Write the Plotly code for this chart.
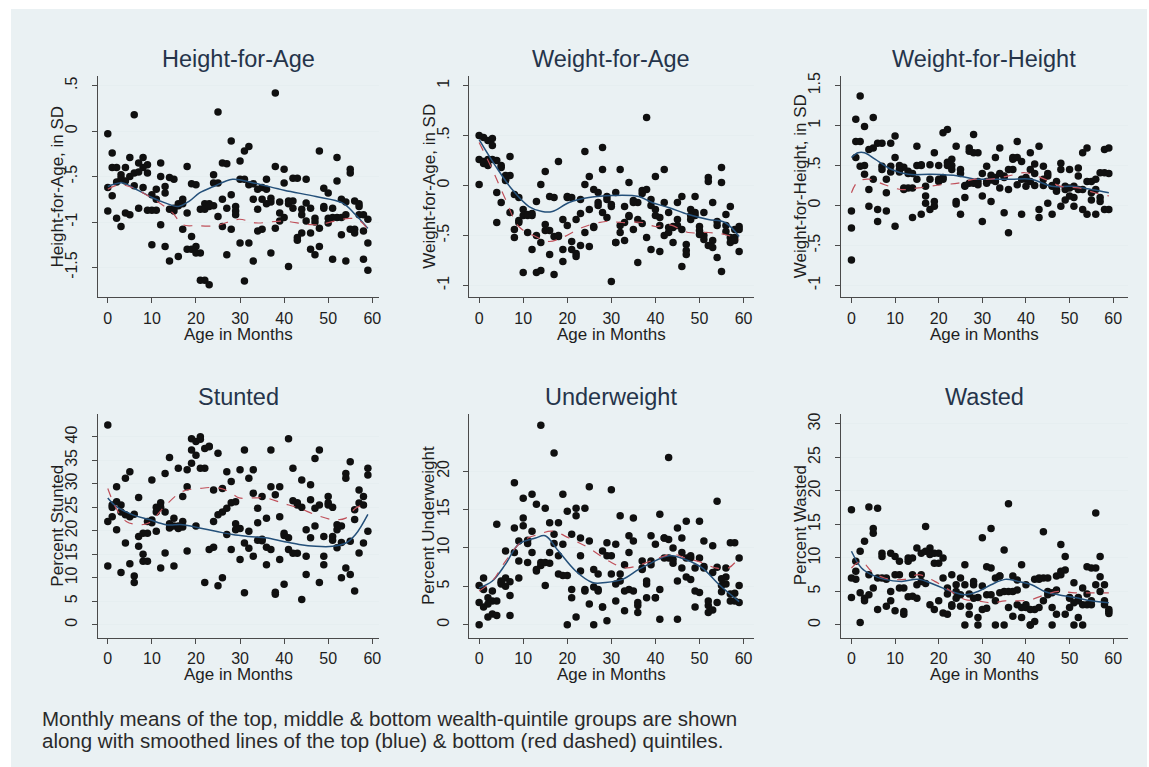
import plotly.graph_objects as go

# ---------------------------------------------------------------- data
AGE = list(range(60))

# Height-for-age z-score, monthly means by wealth quintile group
hfa_top = [-0.03, -0.24, -0.40, -0.48, -0.40, -0.29, 0.18, -0.35, -0.29, -0.37,
           -0.70, -0.64, -0.35, -0.61, -0.51, -0.53, -0.80, -0.75, -0.39, -0.58,
           -0.59, -0.86, -0.80, -0.80, -0.48, 0.21, -0.35, -0.36, -0.11, -0.83,
           -0.33, -0.22, -0.17, -0.58, -0.64, -0.62, -0.53, -0.74, 0.42, -0.78,
           -0.42, -0.77, -0.52, -0.52, -0.86, -0.53, -0.85, -0.96, -0.22, -0.63,
           -0.68, -0.85, -0.29, -0.75, -0.78, -0.42, -0.77, -0.80, -0.92, -0.97]
hfa_mid = [-0.62, -0.40, -0.56, -0.52, -0.55, -0.50, -0.46, -0.45, -0.40, -0.46,
           -0.87, -0.75, -0.50, -0.68, -0.86, -0.85, -0.82, -0.80, -0.90, -1.16,
           -1.27, -1.34, -0.86, -0.83, -0.57, -0.57, -0.75, -0.85, -0.70, -0.88,
           -0.53, -0.53, -0.59, -0.75, -0.86, -0.75, -0.64, -0.78, -0.39, -0.90,
           -0.57, -0.80, -0.77, -1.17, -0.92, -0.79, -1.12, -1.00, -1.07, -0.83,
           -0.96, -0.95, -0.55, -0.95, -0.92, -0.46, -1.08, -0.83, -1.10, -1.23]
hfa_bot = [-0.88, -0.71, -0.96, -1.05, -0.90, -0.92, -0.60, -0.85, -0.62, -0.87,
           -1.25, -0.87, -1.03, -1.27, -1.43, -0.88, -1.38, -1.08, -1.30, -1.30,
           -1.34, -1.64, -1.64, -1.69, -0.82, -0.94, -1.05, -1.36, -1.08, -0.92,
           -1.23, -1.65, -1.23, -1.43, -1.10, -1.08, -0.80, -1.34, -1.07, -0.99,
           -0.95, -1.49, -0.85, -1.20, -1.12, -0.99, -1.30, -1.36, -1.27, -0.85,
           -1.01, -1.41, -0.95, -1.14, -1.43, -1.08, -1.12, -0.92, -1.41, -1.53]
hfa_blue_age = [0, 3.4, 6.4, 10, 13, 16, 18.5, 20.8, 24, 28.3, 33, 40, 47.2, 53.2, 56.2, 59]
hfa_blue = [-0.61, -0.57, -0.64, -0.73, -0.79, -0.83, -0.77, -0.68, -0.61, -0.53,
            -0.57, -0.65, -0.72, -0.79, -0.92, -1.07]
hfa_red_age = [0, 2.6, 6, 9.4, 12, 14.7, 17, 20, 24.5, 29.8, 33.6, 39.6, 47.2, 54.7, 57, 59]
hfa_red = [-0.64, -0.59, -0.63, -0.72, -0.80, -0.90, -1.03, -1.04, -1.04, -0.97,
           -1.01, -0.99, -1.03, -0.96, -0.98, -1.08]

# Weight-for-age z-score
wfa_top = [0.50, 0.48, 0.45, 0.47, 0.25, 0.20, 0.10, 0.29, -0.09, -0.12,
           -0.24, -0.29, -0.28, -0.16, 0.01, 0.14, -0.11, -0.12, 0.24, -0.34,
           -0.12, -0.12, -0.34, -0.14, 0.34, 0.09, -0.04, -0.07, 0.38, -0.11,
           -0.21, -0.07, 0.16, -0.21, 0.03, -0.17, -0.17, -0.05, 0.68, -0.14,
           0.09, -0.32, 0.16, -0.27, -0.41, -0.17, -0.11, -0.59, -0.24, -0.11,
           -0.41, -0.27, 0.04, -0.17, -0.36, 0.18, -0.29, -0.21, -0.44, -0.41]
wfa_mid = [0.26, 0.24, 0.26, 0.40, -0.07, 0.18, 0.06, 0.10, -0.44, -0.35,
           -0.30, -0.30, -0.30, -0.50, -0.57, -0.39, -0.45, -0.51, -0.51, -0.64,
           -0.11, -0.56, -0.71, -0.28, 0.01, -0.24, -0.41, -0.17, 0.16, -0.14,
           -0.19, -0.57, -0.47, -0.37, -0.31, -0.44, -0.34, -0.08, -0.04, -0.20,
           -0.24, -0.40, -0.17, -0.42, -0.42, -0.34, -0.44, -0.65, -0.30, -0.27,
           -0.45, -0.50, 0.08, -0.55, -0.40, 0.03, -0.40, -0.52, -0.52, -0.44]
wfa_bot = [0.01, 0.22, 0.20, 0.26, -0.37, -0.17, 0.05, -0.27, -0.52, -0.37,
           -0.87, -0.47, -0.64, -0.87, -0.85, -0.45, -0.69, -0.89, -0.50, -0.76,
           -0.40, -0.64, -0.68, -0.60, -0.47, -0.61, -0.42, -0.20, -0.27, -0.32,
           -0.96, -0.57, -0.40, -0.55, -0.30, -0.15, -0.77, -0.38, -0.52, -0.64,
           -0.30, -0.66, -0.50, -0.47, -0.57, -0.40, -0.81, -0.69, -0.34, -0.30,
           -0.49, -0.54, -0.60, -0.62, -0.72, -0.86, -0.46, -0.57, -0.55, -0.66]
wfa_blue_age = [0, 3.8, 7.5, 11.3, 14.3, 16.6, 20.4, 24.9, 30.2, 36.2, 39.2, 43, 47.5, 52, 55.8, 59]
wfa_blue = [0.46, 0.19, -0.04, -0.21, -0.26, -0.26, -0.17, -0.12, -0.10, -0.11,
            -0.17, -0.22, -0.29, -0.34, -0.37, -0.51]
wfa_red_age = [0, 3, 6, 9, 12.8, 15.8, 18.9, 23.4, 28.7, 32.5, 37, 40, 43, 47.5, 52, 55.8, 59]
wfa_red = [0.43, 0.16, -0.14, -0.41, -0.51, -0.56, -0.52, -0.42, -0.36, -0.37,
           -0.37, -0.41, -0.39, -0.47, -0.47, -0.49, -0.54]

# Weight-for-height z-score
wfh_top = [-0.07, 1.08, 1.37, 0.99, 0.20, 1.10, 0.78, 0.78, 0.33, 0.78,
           0.87, 0.50, 0.48, 0.43, 0.40, 0.74, 0.51, 0.24, 0.51, 0.66,
           0.50, 0.91, 0.95, 0.58, 0.74, 0.45, 0.24, 0.72, 0.89, 0.66,
           0.40, 0.49, 0.38, 0.60, 0.72, 0.37, 0.45, 0.58, 0.80, 0.55,
           0.33, 0.66, 0.52, 0.74, 0.49, 0.37, 0.24, 0.30, 0.53, 0.24,
           0.45, 0.24, 0.47, 0.66, 0.72, 0.30, 0.33, 0.41, 0.70, 0.72]
wfh_mid = [-0.28, 0.80, 0.80, 0.50, 0.70, 0.72, -0.05, 0.49, 0.16, 0.49,
           0.60, 0.45, 0.22, 0.40, 0.22, 0.50, 0.50, 0.12, 0.33, 0.05,
           0.33, 0.33, 0.54, 0.50, 0.02, 0.40, 0.25, 0.68, 0.66, 0.26,
           0.12, 0.28, 0.32, 0.30, 0.22, 0.35, 0.20, 0.60, 0.60, 0.33,
           0.35, 0.45, 0.40, -0.05, 0.33, 0.40, 0.25, 0.20, 0.45, 0.20,
           0.22, 0.10, 0.37, 0.20, 0.30, 0.16, 0.20, 0.05, 0.41, 0.40]
wfh_bot = [-0.68, 0.60, 0.49, 0.39, -0.01, 0.33, -0.20, 0.45, -0.07, 0.42,
           -0.26, 0.42, 0.20, 0.22, -0.15, 0.33, -0.11, 0.03, -0.05, -0.01,
           0.30, 0.35, 0.50, 0.45, 0.05, -0.11, 0.10, 0.28, 0.28, 0.30,
           -0.20, 0.30, 0.05, 0.35, 0.40, -0.09, -0.34, 0.45, 0.26, -0.11,
           0.24, 0.30, 0.25, -0.15, 0.25, 0.03, -0.11, 0.18, -0.01, 0.07,
           0.12, -0.01, 0.20, -0.05, -0.11, 0.07, -0.11, 0.10, -0.05, -0.05]
wfh_blue_age = [0, 1.5, 3, 5.4, 9.2, 13, 18.3, 24.5, 28.3, 32, 36.7, 41.3, 45.9, 50.5, 55, 59]
wfh_blue = [0.60, 0.66, 0.66, 0.58, 0.45, 0.39, 0.39, 0.37, 0.33, 0.33,
            0.33, 0.33, 0.24, 0.24, 0.20, 0.16]
wfh_red_age = [0, 1.5, 4, 7.6, 11.5, 15.3, 20.6, 24.5, 28.3, 32, 36, 39.8, 44.3, 48, 52, 55.8, 59]
wfh_red = [0.16, 0.30, 0.33, 0.26, 0.20, 0.22, 0.26, 0.28, 0.33, 0.33,
           0.37, 0.41, 0.33, 0.24, 0.22, 0.16, 0.12]

# Percent stunted
stu_top = [42.5, 25.5, 29.4, 25.5, 31.2, 32.6, 10.4, 27.1, 15.0, 13.5,
           30.8, 19.9, 12.1, 32.2, 35.6, 12.5, 33.3, 27.3, 33.0, 39.6,
           21.0, 40.0, 33.3, 37.9, 22.0, 36.5, 10.0, 32.6, 16.0, 26.2,
           33.0, 37.2, 31.2, 33.0, 24.8, 27.3, 12.8, 37.2, 6.5, 29.4,
           8.6, 39.6, 33.3, 26.0, 5.4, 20.2, 29.8, 35.4, 37.2, 18.8,
           27.3, 18.8, 21.3, 10.0, 32.2, 34.7, 7.2, 28.7, 27.3, 33.3]
stu_mid = [22.0, 23.0, 26.2, 11.1, 23.4, 13.0, 9.0, 18.8, 13.5, 19.5,
           21.7, 25.0, 25.0, 15.3, 20.6, 22.7, 21.0, 22.0, 15.7, 37.2,
           36.1, 33.3, 9.0, 16.0, 28.7, 23.4, 29.0, 24.8, 30.5, 21.5,
           13.9, 6.8, 19.9, 28.0, 21.7, 17.9, 22.7, 29.4, 6.9, 23.0,
           19.0, 18.5, 26.4, 15.2, 30.8, 14.6, 26.6, 21.0, 25.5, 14.6,
           25.5, 25.0, 20.2, 21.0, 31.2, 17.8, 22.4, 15.3, 25.5, 31.9]
stu_bot = [12.5, 25.0, 20.2, 24.0, 17.4, 23.0, 23.5, 16.7, 19.5, 22.0,
           22.3, 24.0, 26.0, 24.0, 21.5, 21.0, 20.5, 20.8, 29.4, 34.4,
           39.0, 39.5, 37.5, 38.0, 16.5, 8.3, 24.0, 19.2, 26.0, 20.2,
           20.5, 17.4, 16.3, 14.6, 18.0, 18.2, 16.5, 16.0, 27.7, 13.9,
           19.5, 16.0, 15.2, 25.5, 25.0, 10.7, 18.5, 24.8, 9.0, 12.8,
           26.0, 18.0, 16.4, 17.5, 12.1, 10.7, 24.5, 25.9, 17.4, 19.9]
stu_blue_age = [0, 1.9, 5.7, 9.4, 13.2, 17, 20.8, 24.5, 28.3, 32, 35.8, 39.6, 43.4,
                47.2, 51, 54, 56.2, 59]
stu_blue = [27.0, 25.2, 23.4, 22.4, 21.3, 21.3, 20.6, 19.9, 19.2, 18.8, 18.5, 17.8,
            17.1, 16.7, 16.7, 17.4, 19.2, 23.5]
stu_red_age = [0, 1.9, 4.2, 7.2, 9.4, 13.2, 17, 20.8, 24.5, 27.5, 29.8, 33, 35.8,
               39.6, 43.4, 47.2, 51, 54, 56.2, 59]
stu_red = [29.0, 24.8, 22.0, 21.3, 21.7, 25.5, 28.4, 29.0, 29.2, 28.4, 27.0, 27.0,
           27.0, 25.9, 24.8, 23.4, 22.4, 22.7, 24.8, 25.9]

# Percent underweight
und_top = [0.0, 2.3, 1.0, 1.4, 1.2, 5.3, 6.1, 1.2, 9.4, 6.1,
           12.9, 8.1, 9.4, 7.0, 7.7, 5.1, 9.4, 10.6, 6.6, 10.5,
           0.0, 3.5, 1.0, 7.0, 4.4, 2.7, 0.0, 4.6, 2.3, 0.5,
           6.6, 3.1, 5.7, 1.8, 4.6, 4.4, 1.6, 7.2, 3.5, 8.3,
           3.5, 0.7, 8.7, 8.7, 8.0, 0.7, 7.4, 6.2, 5.9, 2.3,
           4.2, 7.4, 1.6, 6.8, 2.9, 4.3, 5.3, 4.0, 4.1, 2.9]
und_mid = [2.9, 4.6, 3.5, 3.1, 3.1, 5.5, 5.0, 3.8, 12.6, 8.3,
           13.9, 10.6, 12.2, 7.2, 8.1, 8.1, 13.3, 11.8, 9.0, 17.0,
           6.4, 4.6, 14.2, 9.0, 4.6, 10.9, 4.9, 6.6, 2.3, 9.0,
           9.0, 5.3, 6.6, 4.4, 9.4, 10.9, 2.5, 8.3, 5.3, 7.8,
           3.5, 4.6, 11.3, 11.1, 10.0, 5.7, 9.4, 8.7, 8.7, 4.4,
           8.7, 7.6, 2.5, 10.3, 7.5, 5.1, 6.2, 3.1, 10.7, 5.1]
und_bot = [5.1, 6.1, 2.7, 4.4, 13.1, 5.7, 9.6, 5.6, 18.5, 10.9,
           16.5, 11.0, 17.0, 15.7, 26.0, 15.2, 8.0, 22.4, 13.3, 6.4,
           14.8, 11.8, 15.2, 11.3, 15.2, 18.0, 7.2, 4.4, 9.6, 10.7,
           17.6, 10.5, 14.2, 7.8, 11.6, 13.9, 2.9, 7.4, 5.7, 11.6,
           10.5, 14.4, 11.3, 21.8, 8.5, 12.6, 11.3, 13.5, 9.0, 7.4,
           13.5, 10.9, 3.1, 1.9, 16.1, 6.0, 7.4, 10.7, 3.1, 8.7]
und_blue_age = [0, 3, 6, 9, 12.8, 15, 18, 21.9, 25.7, 28.7, 32.5, 36.2, 39.2, 43,
                46.8, 50.6, 54.3, 59]
und_blue = [4.8, 5.7, 7.9, 10.5, 11.3, 11.6, 9.6, 7.0, 5.5, 5.5, 5.9, 7.2, 8.1, 9.0,
            8.5, 7.4, 5.3, 3.0]
und_red_age = [0, 3, 6, 9.8, 13.6, 16.6, 20.4, 24.9, 29.4, 33.2, 37, 40.8, 43.8,
               46.8, 50.6, 53.6, 56.6, 59]
und_red = [4.4, 5.7, 8.3, 10.9, 11.8, 12.2, 11.3, 10.0, 8.3, 7.4, 7.9, 8.7, 9.2,
           8.7, 8.1, 7.4, 7.4, 8.8]

# Percent wasted
was_top = [17.2, 6.8, 11.0, 12.5, 17.6, 14.4, 17.4, 10.7, 6.8, 5.0,
           10.2, 9.5, 5.5, 9.5, 7.5, 11.5, 7.5, 14.7, 11.5, 10.7,
           3.6, 1.8, 5.5, 7.5, 4.0, 2.8, 0.0, 1.6, 6.0, 4.1,
           13.0, 4.5, 14.4, 0.0, 7.3, 11.2, 18.1, 5.0, 3.0, 9.0,
           6.0, 0.0, 2.3, 2.6, 13.9, 5.0, 4.8, 1.6, 12.0, 10.2,
           2.6, 6.3, 3.6, 0.0, 3.0, 8.5, 16.7, 10.2, 3.0, 2.0]
was_mid = [4.1, 8.0, 0.35, 4.0, 7.5, 13.7, 2.3, 10.2, 2.8, 10.7,
           2.1, 7.5, 2.0, 10.0, 4.3, 4.0, 10.7, 11.0, 3.0, 9.2,
           9.2, 7.0, 4.6, 3.0, 6.0, 4.5, 9.0, 4.6, 6.5, 0.0,
           5.8, 2.5, 8.5, 7.0, 7.3, 0.0, 5.0, 1.3, 6.7, 1.1,
           3.0, 0.0, 6.8, 6.8, 7.0, 4.5, 0.0, 7.3, 7.5, 1.6,
           4.1, 0.0, 1.1, 5.5, 4.6, 3.6, 8.5, 5.0, 3.6, 1.7]
was_bot = [7.0, 9.5, 4.8, 3.6, 4.5, 5.5, 7.0, 7.0, 7.0, 3.6,
           7.5, 5.5, 1.6, 4.2, 10.0, 6.0, 6.5, 6.2, 10.5, 2.3,
           10.7, 10.0, 1.6, 2.8, 5.0, 7.0, 6.0, 2.8, 4.0, 1.1,
           2.3, 8.7, 4.5, 3.6, 4.8, 5.0, 2.6, 7.3, 5.2, 2.6,
           2.6, 2.3, 0.5, 7.0, 3.6, 7.0, 2.6, 5.2, 8.0, 8.2,
           4.0, 3.3, 4.1, 3.0, 8.7, 3.0, 6.0, 7.2, 6.0, 2.3]
was_blue_age = [0, 2.3, 4.6, 7.6, 11.5, 15.3, 19.1, 22.9, 26, 29, 32, 35.2, 38.2,
                41.3, 44.3, 47.4, 51.2, 55, 59]
was_blue = [11.0, 8.5, 7.5, 6.8, 6.5, 6.8, 6.0, 5.0, 4.5, 5.0, 6.0, 6.8, 6.5, 6.0,
            5.0, 4.5, 4.1, 3.6, 3.3]
was_red_age = [0, 2.3, 4.6, 7.6, 12.2, 15.3, 19.1, 22.9, 26, 29, 32, 35.2, 38.2,
               41.3, 44.3, 47.4, 51.2, 55, 59]
was_red = [8.5, 9.5, 8.0, 7.0, 6.8, 7.5, 6.5, 5.0, 3.8, 3.6, 3.3, 3.6, 3.6, 3.8,
           4.5, 5.0, 4.8, 4.8, 4.8]

X_TICKS = [0, 10, 20, 30, 40, 50, 60]

PANELS = [
    dict(title="Height-for-Age", ytitle="Height-for-Age, in SD",
         groups=(hfa_top, hfa_mid, hfa_bot),
         blue=(hfa_blue_age, hfa_blue), red=(hfa_red_age, hfa_red),
         yticks=[-1.5, -1, -0.5, 0, 0.5], ytext=["-1.5", "-1", "-.5", "0", ".5"],
         yrange=[-1.83, 0.61], xrange=[-2.26, 61.6]),
    dict(title="Weight-for-Age", ytitle="Weight-for-Age, in SD",
         groups=(wfa_top, wfa_mid, wfa_bot),
         blue=(wfa_blue_age, wfa_blue), red=(wfa_red_age, wfa_red),
         yticks=[-1, -0.5, 0, 0.5, 1], ytext=["-1", "-.5", "0", ".5", "1"],
         yrange=[-1.12, 1.10], xrange=[-2.26, 62.3]),
    dict(title="Weight-for-Height", ytitle="Weight-for-Height, in SD",
         groups=(wfh_top, wfh_mid, wfh_bot),
         blue=(wfh_blue_age, wfh_blue), red=(wfh_red_age, wfh_red),
         yticks=[-1, -0.5, 0, 0.5, 1, 1.5], ytext=["-1", "-.5", "0", ".5", "1", "1.5"],
         yrange=[-1.15, 1.625], xrange=[-2.5, 63.4]),
    dict(title="Stunted", ytitle="Percent Stunted",
         groups=(stu_top, stu_mid, stu_bot),
         blue=(stu_blue_age, stu_blue), red=(stu_red_age, stu_red),
         yticks=[0, 5, 10, 15, 20, 25, 30, 35, 40],
         ytext=["0", "5", "10", "15", "20", "25", "30", "35", "40"],
         yrange=[-2.75, 44.9], xrange=[-2.26, 61.6]),
    dict(title="Underweight", ytitle="Percent Underweight",
         groups=(und_top, und_mid, und_bot),
         blue=(und_blue_age, und_blue), red=(und_red_age, und_red),
         yticks=[0, 5, 10, 15, 20], ytext=["0", "5", "10", "15", "20"],
         yrange=[-1.7, 27.5], xrange=[-2.26, 62.3]),
    dict(title="Wasted", ytitle="Percent Wasted",
         groups=(was_top, was_mid, was_bot),
         blue=(was_blue_age, was_blue), red=(was_red_age, was_red),
         yticks=[0, 5, 10, 15, 20, 25, 30], ytext=["0", "5", "10", "15", "20", "25", "30"],
         yrange=[-1.9, 31.5], xrange=[-2.5, 63.4]),
]

CAPTION = ["Monthly means of the top, middle & bottom wealth-quintile groups are shown",
           "along with smoothed lines of the top (blue) & bottom (red dashed) quintiles."]

# ---------------------------------------------------------------- layout
W, H = 1149, 767
FONT = "Liberation Sans, Arial, sans-serif"
BG = "#eaf1f3"
TITLE_C = "#25344a"
TEXT_C = "#1e1e1e"
AXIS_C = "#4a4a4a"
BLUE = "#24507a"
RED = "#c0505a"

COLS = [(98, 380), (470, 755), (842, 1130)]
ROWS = [(72, 295), (412, 637)]


def px_x(p):
    return p / W


def px_y(p):
    return 1 - p / H


fig = go.Figure()
annotations = []

for i, p in enumerate(PANELS):
    c0, c1 = COLS[i % 3]
    r0, r1 = ROWS[i // 3]
    n = "" if i == 0 else str(i + 1)
    xa, ya = "x" + n, "y" + n

    for vals in p["groups"]:
        fig.add_trace(go.Scatter(
            x=AGE, y=vals, xaxis=xa, yaxis=ya, mode="markers",
            marker=dict(color="#101010", size=7.5, line=dict(width=0)),
            showlegend=False, hoverinfo="skip"))
    fig.add_trace(go.Scatter(
        x=p["blue"][0], y=p["blue"][1], xaxis=xa, yaxis=ya, mode="lines",
        line=dict(color=BLUE, width=1.5, shape="spline", smoothing=1.0),
        showlegend=False, hoverinfo="skip"))
    fig.add_trace(go.Scatter(
        x=p["red"][0], y=p["red"][1], xaxis=xa, yaxis=ya, mode="lines",
        line=dict(color=RED, width=1.2, dash="dash", shape="spline", smoothing=1.0),
        showlegend=False, hoverinfo="skip"))

    fig.layout["xaxis" + n] = dict(
        domain=[px_x(c0), px_x(c1)], anchor=ya, range=p["xrange"],
        tickvals=X_TICKS, ticks="outside", ticklen=5, tickcolor=AXIS_C,
        showline=True, linecolor=AXIS_C, linewidth=1, showgrid=False,
        zeroline=False, tickfont=dict(family=FONT, size=16, color=TEXT_C),
        ticklabelstandoff=1)
    fig.layout["yaxis" + n] = dict(
        domain=[px_y(r1), px_y(r0)], anchor=xa, range=p["yrange"],
        tickvals=p["yticks"], ticktext=p["ytext"], tickangle=-90,
        ticks="outside", ticklen=5, tickcolor=AXIS_C,
        showline=True, linecolor=AXIS_C, linewidth=1,
        showgrid=True, gridcolor="#e6eef0", gridwidth=1,
        zeroline=False, tickfont=dict(family=FONT, size=16, color=TEXT_C),
        ticklabelstandoff=8)

    cx = (c0 + c1) / 2
    annotations.append(dict(
        text=p["title"], x=px_x(cx), y=px_y(r0 - 17), xref="paper", yref="paper",
        xanchor="center", yanchor="middle", showarrow=False,
        font=dict(family=FONT, size=23.5, color=TITLE_C)))
    annotations.append(dict(
        text="Age in Months", x=px_x(cx), y=px_y(r1 + 37), xref="paper", yref="paper",
        xanchor="center", yanchor="middle", showarrow=False,
        font=dict(family=FONT, size=17, color=TEXT_C)))
    annotations.append(dict(
        text=p["ytitle"], x=px_x(c0 - 40), y=px_y((r0 + r1) / 2), xref="paper",
        yref="paper", xanchor="center", yanchor="middle", textangle=-90,
        showarrow=False, font=dict(family=FONT, size=17, color=TEXT_C)))

for k, line in enumerate(CAPTION):
    annotations.append(dict(
        text=line, x=px_x(40), y=px_y(718 + 22 * k), xref="paper", yref="paper",
        xanchor="left", yanchor="middle", showarrow=False,
        font=dict(family=FONT, size=20.5, color="#2a2a2a")))

fig.update_layout(
    width=W, height=H, autosize=False,
    margin=dict(l=0, r=0, t=0, b=0, pad=0),
    paper_bgcolor="white", plot_bgcolor="white",
    annotations=annotations,
    shapes=[dict(type="rect", xref="paper", yref="paper", x0=px_x(11), x1=1,
                 y0=0, y1=px_y(5), fillcolor=BG, line=dict(width=0), layer="below")],
)

fig.write_html("out.html", config=dict(displayModeBar=False))
